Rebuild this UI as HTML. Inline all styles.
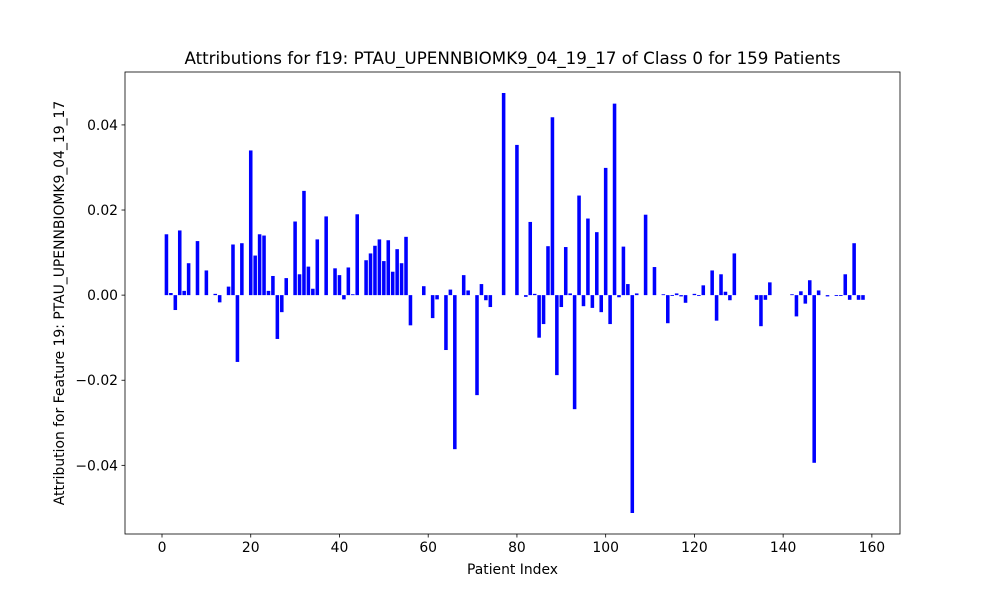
<!DOCTYPE html>
<html><head><meta charset="utf-8"><style>
body{margin:0;background:#fff;}
text{font-family:"DejaVu Sans","Liberation Sans",sans-serif;fill:#000;}
</style></head><body>
<svg id="chart" width="1000" height="600" xmlns="http://www.w3.org/2000/svg">
<rect width="1000" height="600" fill="#fff"/>
<g id="bars"></g>
<g id="axes"></g>
<text x="512.5" y="64" font-size="16.7" text-anchor="middle">Attributions for f19: PTAU_UPENNBIOMK9_04_19_17 of Class 0 for 159 Patients</text>
<text x="512.5" y="574" font-size="13.9" text-anchor="middle">Patient Index</text>
<text transform="translate(64,303) rotate(-90)" font-size="13.9" text-anchor="middle">Attribution for Feature 19: PTAU_UPENNBIOMK9_04_19_17</text>
</svg>
<script>
const values = [0,0.0143,0.0005,-0.0035,0.0152,0.001,0.0075,0,0.0127,0,0.0058,0,0.0003,-0.0017,0,0.002,0.0119,-0.0157,0.0122,0,
0.034,0.0093,0.0143,0.014,0.001,0.0045,-0.0103,-0.004,0.004,0,0.0173,0.0049,0.0245,0.0067,0.0015,0.0131,0,0.0185,0,0.0063,
0.0047,-0.001,0.0065,0.0002,0.019,0,0.0082,0.0098,0.0116,0.0131,0.008,0.0129,0.0055,0.0108,0.0075,0.0137,-0.0071,0,0,0.0021,
0,-0.0054,-0.001,0,-0.0129,0.0013,-0.0362,0,0.0047,0.0011,0,-0.0235,0.0026,-0.0012,-0.0028,0,0,0.0475,0,0,
0.0353,0,-0.0004,0.0172,0.0003,-0.01,-0.0068,0.0115,0.0418,-0.0188,-0.0028,0.0113,0.0004,-0.0268,0.0234,-0.0026,0.018,-0.003,0.0148,-0.004,
0.0299,-0.0068,0.045,-0.0005,0.0114,0.0026,-0.0512,0.0004,0,0.0189,0,0.0066,0,0.0002,-0.0066,-0.0002,0.0004,-0.0003,-0.0018,0,
0.0003,-0.0002,0.0023,0,0.0058,-0.006,0.0049,0.0008,-0.0012,0.0098,0,0,0,0,-0.0011,-0.0073,-0.0011,0.003,0,0,
0,0,0.0002,-0.005,0.0009,-0.002,0.0035,-0.0394,0.0011,0,-0.0003,0,-0.0002,-0.0002,0.0049,-0.0011,0.0122,-0.0011,-0.0011];
const xTicks = [0,20,40,60,80,100,120,140,160];
const yTicks = [-0.04,-0.02,0.00,0.02,0.04];
const yTickLabels = ["−0.04","−0.02","0.00","0.02","0.04"];

const L=125,R=900,T=72,B=534, bw=0.8;
const n=values.length;
const x0=-bw/2, x1=n-1+bw/2, xm=(x1-x0)*0.05;
const xmin=x0-xm, xmax=x1+xm;
const dmin=Math.min(0,...values), dmax=Math.max(0,...values), ym=(dmax-dmin)*0.05;
const ymin=dmin-ym, ymax=dmax+ym;
const sx=v=>L+(v-xmin)/(xmax-xmin)*(R-L);
const sy=v=>B-(v-ymin)/(ymax-ymin)*(B-T);
const NS="http://www.w3.org/2000/svg";
const bars=document.getElementById('bars'), axes=document.getElementById('axes');
values.forEach((v,i)=>{
  const r=document.createElementNS(NS,'rect');
  const a=sx(i-bw/2), b=sx(i+bw/2);
  r.setAttribute('x',a); r.setAttribute('width',b-a);
  r.setAttribute('y',Math.min(sy(v),sy(0))); r.setAttribute('height',Math.abs(sy(v)-sy(0)));
  r.setAttribute('fill','#0000ff');
  
  
  bars.appendChild(r);
});
const frame=document.createElementNS(NS,'rect');
frame.setAttribute('x',L);frame.setAttribute('y',T);frame.setAttribute('width',R-L);frame.setAttribute('height',B-T);
frame.setAttribute('fill','none');frame.setAttribute('stroke','#000');frame.setAttribute('stroke-width','0.8');


axes.appendChild(frame);
xTicks.forEach(t=>{
  const X=sx(t);
  const l=document.createElementNS(NS,'line');
  l.setAttribute('x1',X);l.setAttribute('x2',X);l.setAttribute('y1',B);l.setAttribute('y2',B+3.5);l.setAttribute('stroke','#000');l.setAttribute('stroke-width','0.8');
  
  
  axes.appendChild(l);
  const tx=document.createElementNS(NS,'text');
  tx.setAttribute('x',X);tx.setAttribute('y',B+18);tx.setAttribute('font-size','13.9');tx.setAttribute('text-anchor','middle');
  tx.textContent=t;
  
  
  axes.appendChild(tx);
});
yTicks.forEach((t,i)=>{
  const Y=sy(t);
  const l=document.createElementNS(NS,'line');
  l.setAttribute('x1',L-3.5);l.setAttribute('x2',L);l.setAttribute('y1',Y);l.setAttribute('y2',Y);l.setAttribute('stroke','#000');l.setAttribute('stroke-width','0.8');
  
  
  axes.appendChild(l);
  const tx=document.createElementNS(NS,'text');
  tx.setAttribute('x',L-7);tx.setAttribute('y',Y+5);tx.setAttribute('font-size','13.9');tx.setAttribute('text-anchor','end');
  tx.textContent=yTickLabels[i];
  
  
  axes.appendChild(tx);
});
</script>
</body></html>
